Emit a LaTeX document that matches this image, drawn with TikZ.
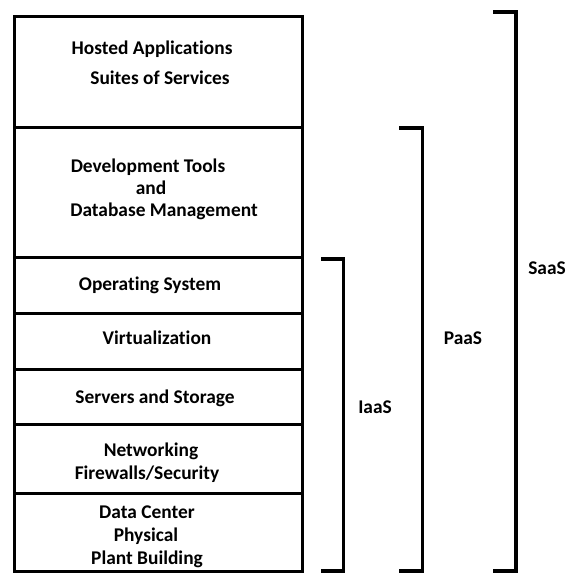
\documentclass[tikz,border=0pt]{standalone}
\usepackage{fontspec}
\setmainfont{Carlito}[Ligatures={NoCommon}]
\begin{document}
\begin{tikzpicture}[x=1pt,y=-1pt,
  layer/.style={draw=black, line width=3pt, minimum width=288pt, inner sep=0pt, outer sep=0pt},
  txt/.style={font=\fontsize{19.4}{21}\selectfont\bfseries, anchor=base, inner sep=0pt},
  lbl/.style={font=\fontsize{19.4}{21}\selectfont\bfseries, anchor=center, inner sep=0pt},
  bracket/.style={draw=black, line width=3.5pt}]
\useasboundingbox[fill=white] (0,0) rectangle (572,573);
% layers
\node[layer, minimum height=111pt] (l1) at (158,71.5) {};
\node[layer, minimum height=130pt] (l2) at (158,192) {};
\node[layer, minimum height=56pt] (l3) at (158,285) {};
\node[layer, minimum height=56pt] (l4) at (158,341) {};
\node[layer, minimum height=55pt] (l5) at (158,396.5) {};
\node[layer, minimum height=69pt] (l6) at (158,458.5) {};
\node[layer, minimum height=78pt] (l7) at (158,532) {};
% texts
\node[txt] (t1a) at (152,54) {Hosted Applications};
\node[txt] (t1b) at (160,84) {Suites of Services};
\node[txt] (t2a) at (148,172) {Development Tools};
\node[txt] (t2b) at (151,194) {and};
\node[txt] (t2c) at (164,216) {Database Management};
\node[txt] (t3) at (150,290) {Operating System};
\node[txt] (t4) at (157,344) {Virtualization};
\node[txt] (t5) at (155,403) {Servers and Storage};
\node[txt] (t6a) at (151,456) {Networking};
\node[txt] (t6b) at (147,479) {Firewalls/Security};
\node[txt] (t7a) at (147,518) {Data Center};
\node[txt] (t7b) at (146,541) {Physical};
\node[txt] (t7c) at (147,564) {Plant Building};
% brackets
\coordinate (iT) at (321,259);
\coordinate (iB) at (321,571);
\coordinate (pT) at (399,128);
\coordinate (pB) at (399,571);
\coordinate (sT) at (493,12);
\coordinate (sB) at (493,571);
\draw[bracket] (iT) -- ++(22.5,0) |- (iB);
\draw[bracket] (pT) -- ++(23.5,0) |- (pB);
\draw[bracket] (sT) -- ++(23,0) |- (sB);
% labels
\node[lbl] (iaas) at (375,407) {IaaS};
\node[lbl] (paas) at (463,338) {PaaS};
\node[lbl] (saas) at (547,268) {SaaS};
\end{tikzpicture}
\end{document}
